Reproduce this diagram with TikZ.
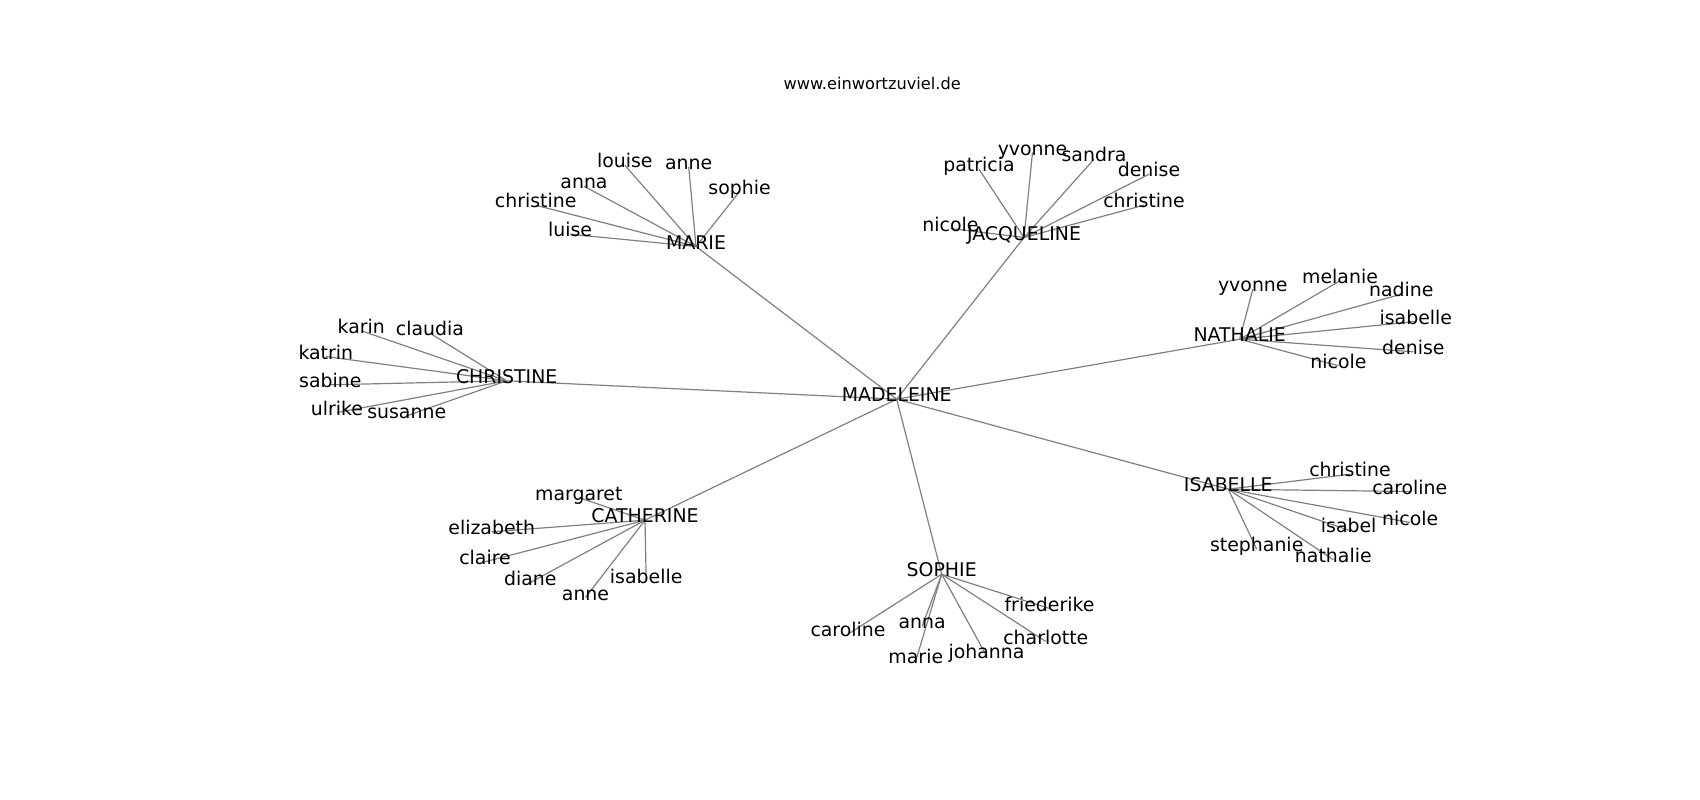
\documentclass[tikz,border=0pt]{standalone}
\usepackage{fontspec}
\setmainfont{DejaVu Sans}
\usetikzlibrary{backgrounds}
\tikzset{
  lbl/.style={font=\fontsize{18.9}{22}\selectfont, inner sep=0pt, outer sep=0pt, text height=0.76em, text depth=0.208em, anchor=center},
  edge/.style={draw=black!50, line width=1.2pt},
  ttl/.style={font=\fontsize{16.2}{19}\selectfont, inner sep=0pt, anchor=base}
}
\begin{document}
\begin{tikzpicture}[x=1pt,y=-1pt]
\useasboundingbox (0,-2.5) rectangle (1700,797.5);
\node[ttl] (title) at (872.2,86.7) {www.einwortzuviel.de};
% hubs
\node[lbl] (MAD) at (896.7,396.7) {MADELEINE};
\node[lbl] (MAR) at (696,244) {MARIE};
\node[lbl] (JAC) at (1024,235) {JACQUELINE};
\node[lbl] (NAT) at (1239.7,336.7) {NATHALIE};
\node[lbl] (ISA) at (1228.3,486.7) {ISABELLE};
\node[lbl] (SOP) at (941.7,571.7) {SOPHIE};
\node[lbl] (CAT) at (645,517.7) {CATHERINE};
\node[lbl] (CHR) at (506.7,378.3) {CHRISTINE};
% MARIE leaves
\node[lbl] (mar1) at (624.8,162.7) {louise};
\node[lbl] (mar2) at (688.7,164.3) {anne};
\node[lbl] (mar3) at (739.6,189) {sophie};
\node[lbl] (mar4) at (584,183.7) {anna};
\node[lbl] (mar5) at (535.7,202.7) {christine};
\node[lbl] (mar6) at (570,231.7) {luise};
% JACQUELINE leaves
\node[lbl] (jac1) at (1032.5,150) {yvonne};
\node[lbl] (jac2) at (1094,156.7) {sandra};
\node[lbl] (jac3) at (979,166.7) {patricia};
\node[lbl] (jac4) at (1149,171.7) {denise};
\node[lbl] (jac5) at (1144,202.7) {christine};
\node[lbl] (jac6) at (950.5,226) {nicole};
% NATHALIE leaves
\node[lbl] (nat1) at (1252.8,286.7) {yvonne};
\node[lbl] (nat2) at (1340,278.3) {melanie};
\node[lbl] (nat3) at (1401.3,291.7) {nadine};
\node[lbl] (nat4) at (1415.8,319) {isabelle};
\node[lbl] (nat5) at (1413.3,349.3) {denise};
\node[lbl] (nat6) at (1338.5,363.3) {nicole};
% ISABELLE leaves
\node[lbl] (isa1) at (1350,471.7) {christine};
\node[lbl] (isa2) at (1409.8,489) {caroline};
\node[lbl] (isa3) at (1410.2,520) {nicole};
\node[lbl] (isa4) at (1348.7,527.7) {isabel};
\node[lbl] (isa5) at (1256.7,546.7) {stephanie};
\node[lbl] (isa6) at (1333.3,557.3) {nathalie};
% CATHERINE leaves
\node[lbl] (cat1) at (578.8,495) {margaret};
\node[lbl] (cat2) at (491.7,529.3) {elizabeth};
\node[lbl] (cat3) at (485,559.3) {claire};
\node[lbl] (cat4) at (530.3,580) {diane};
\node[lbl] (cat5) at (585.5,595) {anne};
\node[lbl] (cat6) at (646.2,578.3) {isabelle};
% SOPHIE leaves
\node[lbl] (sop1) at (1049.5,606) {friederike};
\node[lbl] (sop2) at (1045.8,639) {charlotte};
\node[lbl] (sop3) at (986.5,653.3) {johanna};
\node[lbl] (sop4) at (922.2,623.3) {anna};
\node[lbl] (sop5) at (915.8,658.3) {marie};
\node[lbl] (sop6) at (848,631.7) {caroline};
% CHRISTINE leaves
\node[lbl] (chr1) at (361.3,328.3) {karin};
\node[lbl] (chr2) at (430,330.7) {claudia};
\node[lbl] (chr3) at (325.8,354) {katrin};
\node[lbl] (chr4) at (330.3,382.3) {sabine};
\node[lbl] (chr5) at (337,410) {ulrike};
\node[lbl] (chr6) at (406.7,413.3) {susanne};
\begin{scope}[on background layer]
\foreach \h in {MAR,JAC,NAT,ISA,SOP,CAT,CHR}
  \draw[edge] (MAD.center) -- (\h.center);
\foreach \i in {1,...,6}{
  \draw[edge] (MAR.center) -- (mar\i.center);
  \draw[edge] (JAC.center) -- (jac\i.center);
  \draw[edge] (NAT.center) -- (nat\i.center);
  \draw[edge] (ISA.center) -- (isa\i.center);
  \draw[edge] (CAT.center) -- (cat\i.center);
  \draw[edge] (SOP.center) -- (sop\i.center);
  \draw[edge] (CHR.center) -- (chr\i.center);
}
\end{scope}
\end{tikzpicture}
\end{document}
